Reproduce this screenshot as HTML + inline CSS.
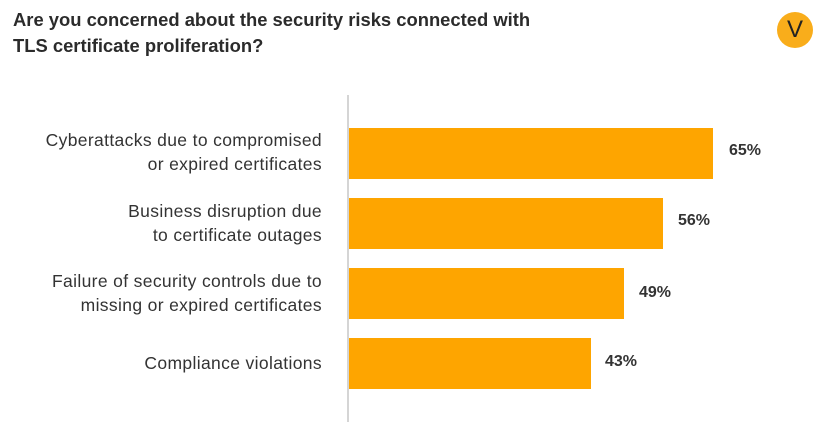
<!DOCTYPE html><html><head><style>
body{margin:0;width:833px;height:428px;background:#fff;font-family:"Liberation Sans",sans-serif;position:relative;overflow:hidden}
.t{position:absolute;left:13px;top:7px;font-weight:bold;font-size:18.4px;line-height:26px;color:#2b2b2b}
.logo{position:absolute;left:777px;top:12px;width:36px;height:36px;border-radius:50%;background:#f9ad1b;text-align:center;line-height:36px;font-size:24px;color:#222}
.ax{position:absolute;left:347px;top:95px;width:2px;height:327px;background:#d5d5d5}
.bar{position:absolute;left:349px;height:51px;background:#fea500}
.v{position:absolute;font-weight:bold;font-size:16px;color:#333}
.l{position:absolute;right:511px;text-align:right;font-size:17.5px;letter-spacing:0.35px;line-height:24px;color:#333;white-space:nowrap}
</style></head><body>
<div class="t">Are you concerned about the security risks connected with<br>TLS certificate proliferation?</div>
<div class="logo">V</div>
<div class="ax"></div>
<div class="bar" style="top:128px;width:364px"></div><div class="v" style="left:729px;top:142px">65%</div>
<div class="bar" style="top:198px;width:314px"></div><div class="v" style="left:678px;top:212px">56%</div>
<div class="bar" style="top:268px;width:275px"></div><div class="v" style="left:639px;top:284px">49%</div>
<div class="bar" style="top:338px;width:242px"></div><div class="v" style="left:605px;top:353px">43%</div>
<div class="l" style="top:128px">Cyberattacks due to compromised<br>or expired certificates</div>
<div class="l" style="top:199px">Business disruption due<br>to certificate outages</div>
<div class="l" style="top:269px">Failure of security controls due to<br>missing or expired certificates</div>
<div class="l" style="top:351px">Compliance violations</div>
</body></html>
